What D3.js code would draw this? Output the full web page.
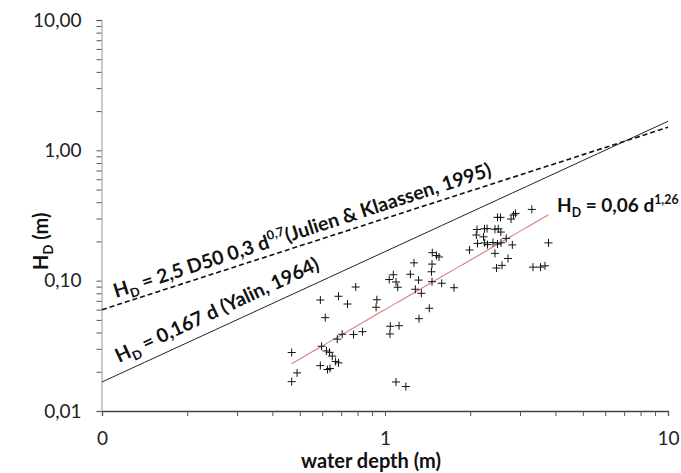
<!DOCTYPE html>
<html>
<head>
<meta charset="utf-8">
<script src="https://cdn.jsdelivr.net/npm/d3@7"></script>
<style>
  body { margin: 0; background: #fff; }
  svg { font-family: Lato, 'Open Sans', sans-serif; }
</style>
</head>
<body>
<svg width="681" height="473"></svg>
<script>
// measured points: water depth d (m) and dune height HD (m)
var depth = [
  0.468, 0.489, 0.468, 0.591, 0.615, 0.685, 0.737, 0.788, 0.597, 0.621,
  0.637, 0.651, 0.669, 0.685, 0.591, 0.626, 0.639, 0.678, 0.706, 0.774,
  0.833, 0.936, 0.930, 1.044, 1.121, 1.041, 1.094, 1.185,
  1.070, 1.035, 1.094, 1.109, 1.229, 1.266, 1.314, 1.280, 1.344, 1.319,
  1.434, 1.466, 1.586, 1.753, 1.469, 1.521, 1.552, 1.466, 1.460,
  2.497, 2.559, 2.846, 2.892, 2.788, 3.302, 2.114, 2.247, 2.294, 2.447,
  2.514, 2.566, 2.102, 2.229, 2.123, 2.250, 2.302, 2.407, 2.497, 2.570,
  2.681, 2.818, 1.989, 2.447, 2.720, 2.477, 2.591, 3.334, 3.543, 3.676, 3.782
]
var duneHeight = [
  0.0281, 0.0196, 0.0168, 0.0711, 0.0520, 0.0759, 0.0662, 0.0894, 0.0314, 0.0289,
  0.0282, 0.0264, 0.0240, 0.0234, 0.0223, 0.0208, 0.0212, 0.0356, 0.0388, 0.0386,
  0.0406, 0.0714, 0.0625, 0.0447, 0.0451, 0.0390, 0.0167, 0.0154,
  0.111, 0.102, 0.0977, 0.0890, 0.112, 0.137, 0.101, 0.0859, 0.0800, 0.0511,
  0.0614, 0.0982, 0.0955, 0.0883, 0.164, 0.156, 0.152, 0.134, 0.117,
  0.306, 0.306, 0.319, 0.328, 0.297, 0.352, 0.247, 0.250, 0.251, 0.248,
  0.250, 0.236, 0.224, 0.217, 0.193, 0.195, 0.189, 0.196, 0.191, 0.195,
  0.211, 0.188, 0.172, 0.162, 0.148, 0.125, 0.131, 0.127, 0.127, 0.130, 0.195
]

// curves HD = a * d^b
var yalin = { a: 0.167, b: 1, from: 0.1, to: 10 }
var julien = { a: 0.3, b: 0.7, from: 0.1, to: 10 }
var fit = { a: 0.06, b: 1.26, from: 0.468, to: 3.78 }

var xTickLabels = ['0', '1', '10']
var yTickLabels = ['0,01', '0,10', '1,00', '10,00']

var svg = d3.select('svg')

var x = d3.scaleLog().domain([0.1, 10]).range([102, 668])
var y = d3.scaleLog().domain([0.01, 10]).range([411, 20])

// minor tick positions 1..9 per decade
function minorTicks (lo, hi) {
  var out = []
  for (var p = lo; p < hi; p *= 10) {
    for (var k = 1; k < 10; k++) out.push(+(p * k).toPrecision(3))
  }
  out.push(hi)
  return out
}
var xDecades = [0.1, 1, 10]
var yDecades = [0.01, 0.1, 1, 10]

// y axis
var yAxis = svg.append('g')
  .attr('transform', 'translate(101.5,0)')
  .call(d3.axisLeft(y)
    .tickValues(minorTicks(0.01, 10))
    .tickSize(5)
    .tickPadding(15)
    .tickFormat(function (d) {
      var i = yDecades.indexOf(d)
      return i >= 0 ? yTickLabels[i] : ''
    }))
yAxis.select('.domain').attr('stroke', '#b0b0b0').attr('stroke-width', 1.3)
yAxis.selectAll('.tick line').attr('stroke', '#555')
yAxis.selectAll('.tick text')
  .attr('font-size', 19).attr('fill', '#222')
  .style('font-family', 'Lato, sans-serif')

// x axis
var xAxis = svg.append('g')
  .attr('transform', 'translate(0,411)')
  .call(d3.axisBottom(x)
    .tickValues(minorTicks(0.1, 10))
    .tickSize(5)
    .tickPadding(16)
    .tickFormat(function (d) {
      var i = xDecades.indexOf(d)
      return i >= 0 ? xTickLabels[i] : ''
    }))
xAxis.select('.domain').attr('stroke', '#404040').attr('stroke-width', 1.3)
xAxis.selectAll('.tick line').attr('stroke', '#555')
xAxis.selectAll('.tick text')
  .attr('font-size', 19).attr('fill', '#222')
  .style('font-family', 'Lato, sans-serif')

// curves
function curve (c) {
  var pts = d3.range(0, 41).map(function (i) {
    var d = c.from * Math.pow(c.to / c.from, i / 40)
    return [d, c.a * Math.pow(d, c.b)]
  })
  return d3.line().x(function (p) { return x(p[0]) }).y(function (p) { return y(p[1]) })(pts)
}

svg.append('path')
  .attr('d', curve(julien))
  .attr('fill', 'none')
  .attr('stroke', '#111')
  .attr('stroke-width', 1.6)
  .attr('stroke-dasharray', '5,3')

svg.append('path')
  .attr('d', curve(yalin))
  .attr('fill', 'none')
  .attr('stroke', '#222')
  .attr('stroke-width', 1)

svg.append('path')
  .attr('d', curve(fit))
  .attr('fill', 'none')
  .attr('stroke', '#d98080')
  .attr('stroke-width', 1.1)

// data points as plus markers
var pts = depth.map(function (d, i) { return { d: d, h: duneHeight[i] } })
svg.append('g')
  .selectAll('path')
  .data(pts)
  .enter().append('path')
    .attr('d', function (p) {
      var cx = x(p.d)
      var cy = y(p.h)
      return 'M' + (cx - 4) + ',' + cy + 'H' + (cx + 4) + 'M' + cx + ',' + (cy - 4) + 'V' + (cy + 4)
    })
    .attr('stroke', '#111')
    .attr('stroke-width', 1)

// annotation text
function label (g, parts, size) {
  var t = g.append('text')
    .attr('font-size', size)
    .attr('font-weight', 'bold')
    .attr('fill', '#111')
  parts.forEach(function (p) {
    var s = t.append('tspan').text(p[0])
    if (p[1] === 'sub') s.attr('font-size', size * 0.65).attr('dy', size * 0.25)
    if (p[1] === 'sup') s.attr('font-size', size * 0.65).attr('dy', -size * 0.4)
    if (p[1] === 'back-sub') s.attr('dy', -size * 0.25)
    if (p[1] === 'back-sup') s.attr('dy', size * 0.4)
  })
  return t
}

label(svg.append('g').attr('transform', 'translate(116,298) rotate(-18)'), [
  ['H'], ['D', 'sub'], [' = 2,5 D50 0,3 d', 'back-sub'], ['0,7', 'sup'], ['(Julien & Klaassen, 1995)', 'back-sup']
], 19.5)

label(svg.append('g').attr('transform', 'translate(119,363) rotate(-25)'), [
  ['H'], ['D', 'sub'], [' = 0,167 d (Yalin, 1964)', 'back-sub']
], 19.5)

label(svg.append('g').attr('transform', 'translate(557,212)'), [
  ['H'], ['D', 'sub'], [' = 0,06 d', 'back-sub'], ['1,26', 'sup']
], 19)

// axis titles
svg.append('text')
  .attr('x', 371).attr('y', 468)
  .attr('text-anchor', 'middle')
  .attr('font-size', 20)
  .attr('font-weight', 'bold')
  .attr('fill', '#111')
  .text('water depth (m)')

label(svg.append('g').attr('transform', 'translate(48,270) rotate(-90)'), [
  ['H'], ['D', 'sub'], [' (m)', 'back-sub']
], 20)
</script>
</body>
</html>
